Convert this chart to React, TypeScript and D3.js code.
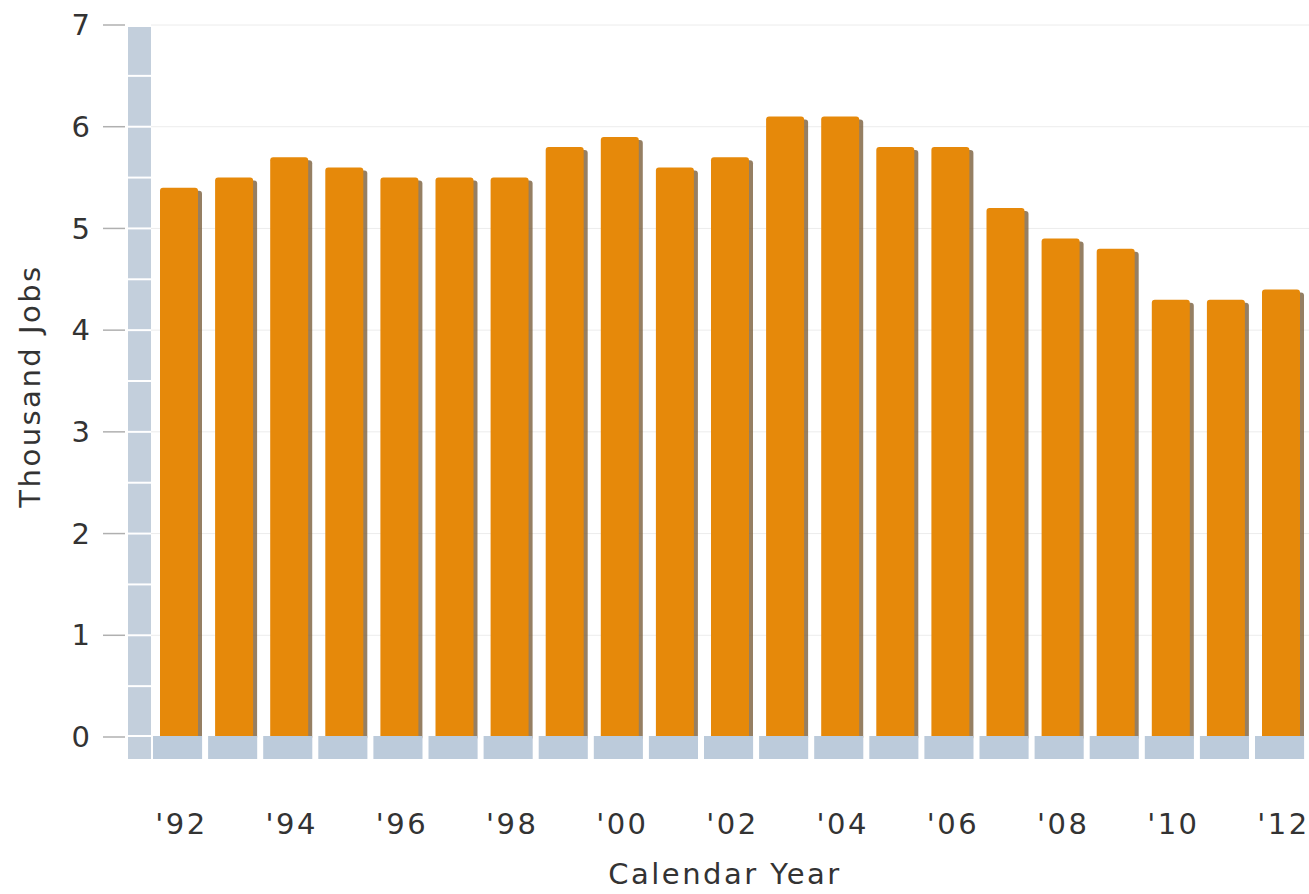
import React from "react";
import * as d3 from "d3";

const years = [1992,1993,1994,1995,1996,1997,1998,1999,2000,2001,2002,2003,2004,2005,2006,2007,2008,2009,2010,2011,2012];
const jobs = [5.4,5.5,5.7,5.6,5.5,5.5,5.5,5.8,5.9,5.6,5.7,6.1,6.1,5.8,5.8,5.2,4.9,4.8,4.3,4.3,4.4];
const yTicks = [0,1,2,3,4,5,6,7];
const xLabelYears = [1992,1994,1996,1998,2000,2002,2004,2006,2008,2010,2012];

const W = 1309, H = 894;
const FONT = "DejaVu Sans, Verdana, sans-serif";

export default function App() {
  const x = d3.scaleBand<number>().domain(years).range([153, 153 + 21 * 55.1]).paddingInner(0).paddingOuter(0);
  const y = d3.scaleLinear().domain([0, 7]).range([737, 25]);
  const step = x.bandwidth();
  const halfTicks = d3.range(0.5, 7, 0.5);
  const fmtYear = (yr: number) => "'" + String(yr % 100).padStart(2, "0");

  return (
    <svg width={W} height={H} style={{ position: "absolute", left: 0, top: 0, background: "#fff" }}>
      {/* gridlines */}
      {yTicks.filter(t => t > 0).map(t => (
        <line key={"g" + t} x1={151} x2={W} y1={y(t)} y2={y(t)} stroke="#ececec" strokeWidth={1} />
      ))}
      {/* y tick marks */}
      {yTicks.map(t => (
        <line key={"tm" + t} x1={103} x2={125} y1={y(t)} y2={y(t)} stroke="#b0b0b0" strokeWidth={1.5} />
      ))}
      {/* y tick labels */}
      {yTicks.map(t => (
        <text key={"tl" + t} x={90} y={y(t)} dy="0.35em" textAnchor="end" fontFamily={FONT} fontSize={29} fill="#333">{t}</text>
      ))}
      {/* vertical axis bar */}
      <rect x={128} y={y(7) + 2} width={23} height={y(0) - y(7) - 2} fill="#c3cfdc" />
      {halfTicks.map(t => (
        <line key={"ht" + t} x1={128} x2={151} y1={y(t)} y2={y(t)} stroke="#fff" strokeWidth={2} />
      ))}
      {/* bar shadows */}
      {years.map((yr, i) => (
        <rect key={"s" + yr} x={(x(yr) as number) + 11} y={y(jobs[i]) + 3} width={38} height={y(0) - y(jobs[i])} rx={3} fill="#7a5f3c" opacity={0.8} />
      ))}
      {/* bars */}
      {years.map((yr, i) => (
        <rect key={"b" + yr} x={(x(yr) as number) + 7} y={y(jobs[i])} width={38} height={y(0) - y(jobs[i]) + 4} rx={3} fill="#e6890a" />
      ))}
      {/* bottom strip */}
      <rect x={128} y={y(0) - 1} width={23} height={23} fill="#c3cfdc" />
      {years.map(yr => (
        <rect key={"st" + yr} x={x(yr) as number} y={y(0) - 1} width={step - 6} height={23} fill="#bccbdb" />
      ))}
      <line x1={128} x2={151} y1={y(0) - 1} y2={y(0) - 1} stroke="#fff" strokeWidth={2} />
      {/* x labels */}
      {xLabelYears.map(yr => (
        <text key={"xl" + yr} x={(x(yr) as number) + step / 2 + 1} y={834} textAnchor="middle" fontFamily={FONT} fontSize={29} letterSpacing={2.5} fill="#333">{fmtYear(yr)}</text>
      ))}
      <text x={725} y={884} textAnchor="middle" fontFamily={FONT} fontSize={29} letterSpacing={2.5} fill="#333">Calendar Year</text>
      <text transform="translate(40,386) rotate(-90)" textAnchor="middle" fontFamily={FONT} fontSize={29} letterSpacing={2.5} fill="#333">Thousand Jobs</text>
    </svg>
  );
}
